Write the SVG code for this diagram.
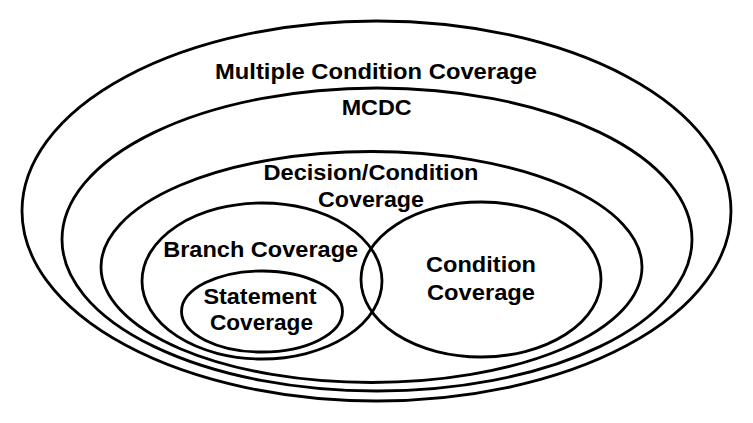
<svg xmlns="http://www.w3.org/2000/svg" width="753" height="423" viewBox="0 0 753 423">
<style>
  .set { fill: none; stroke: #000; stroke-width: 2.8; }
  .lbl { font-family: "Liberation Sans", Arial, Helvetica, sans-serif; font-weight: bold; font-size: 22px; fill: #000; text-anchor: middle; }
</style>
<rect width="753" height="423" fill="#fff"/>
<g id="multiple-condition-coverage">
  <ellipse class="set" cx="376.5" cy="211" rx="354.5" ry="190"/>
  <text class="lbl" x="376" y="79" textLength="322" lengthAdjust="spacingAndGlyphs">Multiple Condition Coverage</text>
</g>
<g id="mcdc">
  <ellipse class="set" cx="377" cy="239.5" rx="315" ry="151.5"/>
  <text class="lbl" x="376.7" y="115" textLength="70" lengthAdjust="spacingAndGlyphs">MCDC</text>
</g>
<g id="decision-condition-coverage">
  <ellipse class="set" cx="371.5" cy="267" rx="270.5" ry="115.5"/>
  <text class="lbl" x="371" y="180" textLength="215" lengthAdjust="spacingAndGlyphs">Decision/Condition</text>
  <text class="lbl" x="371" y="207" textLength="106" lengthAdjust="spacingAndGlyphs">Coverage</text>
</g>
<g id="branch-coverage">
  <ellipse class="set" cx="262" cy="281" rx="120" ry="78"/>
  <text class="lbl" x="260.7" y="257" textLength="195" lengthAdjust="spacingAndGlyphs">Branch Coverage</text>
</g>
<g id="condition-coverage">
  <ellipse class="set" cx="481" cy="279.5" rx="120" ry="77.5"/>
  <text class="lbl" x="481" y="272" textLength="110" lengthAdjust="spacingAndGlyphs">Condition</text>
  <text class="lbl" x="481" y="300" textLength="108" lengthAdjust="spacingAndGlyphs">Coverage</text>
</g>
<g id="statement-coverage">
  <ellipse class="set" cx="262" cy="311.5" rx="80.5" ry="40.5"/>
  <text class="lbl" x="260" y="303.5" textLength="113" lengthAdjust="spacingAndGlyphs">Statement</text>
  <text class="lbl" x="261.5" y="330" textLength="103" lengthAdjust="spacingAndGlyphs">Coverage</text>
</g>
<g id="connectors"></g>
</svg>
